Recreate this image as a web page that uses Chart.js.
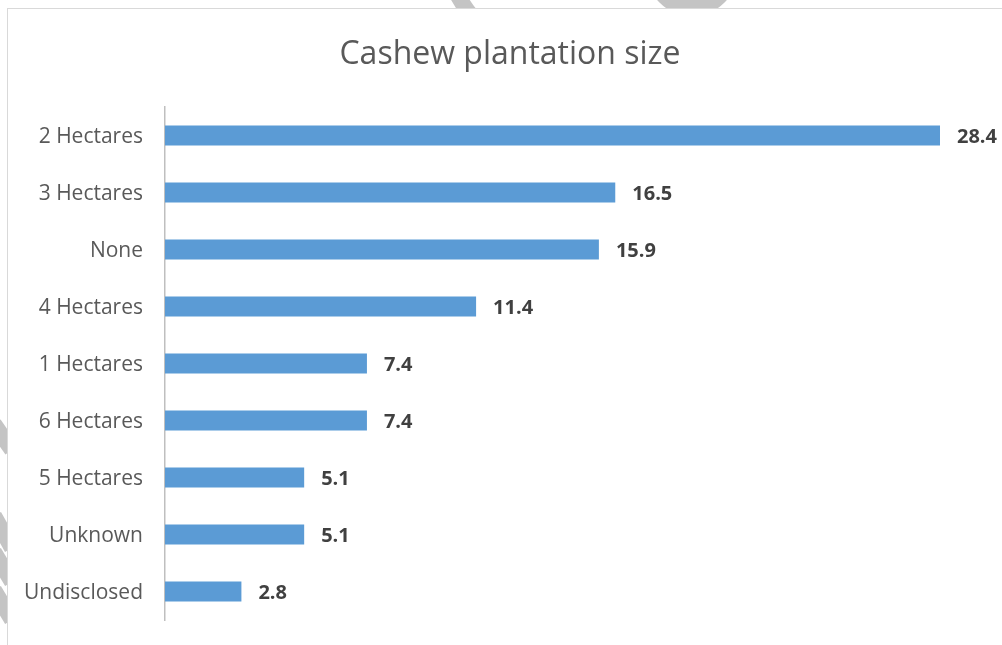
<!DOCTYPE html>
<html>
<head>
<meta charset="utf-8">
<script src="https://cdn.jsdelivr.net/npm/chart.js@4"></script>
<style>
html,body{margin:0;padding:0;background:#fff;overflow:hidden}
#wrap{position:relative;width:1002px;height:645px}
#mark{position:absolute;left:0;top:0}
#frame{position:absolute;left:7px;top:8px;width:1100px;height:700px;border:1.5px solid #d9d9d9;box-sizing:border-box;background:#fff}
canvas{position:absolute;left:0;top:0}
</style>
</head>
<body>
<div id="wrap">
<svg id="mark" width="1002" height="645">
  <g fill="none" stroke="#c4c4c4" stroke-width="16">
    <path d="M448,-30 Q454,-6 470,14"/>
    <circle cx="692" cy="-30" r="38"/>
    <path d="M-6,424 L12,450"/>
    <path d="M-6,516 L12,548"/>
    <path d="M-6,552 L12,582"/>
    <path d="M-6,590 L12,620"/>
  </g>
</svg>
<div id="frame"></div>
<canvas id="chart" width="1002" height="645"></canvas>
</div>
<script>
const chartTitle = "Cashew plantation size"
const categories = ["2 Hectares","3 Hectares","None","4 Hectares","1 Hectares","6 Hectares","5 Hectares","Unknown","Undisclosed"]
const values = [28.4,16.5,15.9,11.4,7.4,7.4,5.1,5.1,2.8]

// title centred over the whole frame, value labels right of each bar
const extras = {
id:"extras",
afterDraw(chart){
const ctx = chart.ctx
ctx.save()
ctx.font = "32px 'Open Sans'"
ctx.fillStyle = "#595959"
ctx.textAlign = "center"
ctx.textBaseline = "alphabetic"
ctx.fillText(chartTitle, 510, 64)

const meta = chart.getDatasetMeta(0)
ctx.font = "bold 20px 'Open Sans'"
ctx.fillStyle = "#404040"
ctx.textAlign = "left"
ctx.textBaseline = "middle"
meta.data.forEach((bar,i)=>{
ctx.fillText(values[i].toFixed(1), bar.x + 17, bar.y + 2)
})
ctx.restore()
}
}

new Chart(document.getElementById("chart"),{
type:"bar",
data:{
labels:categories,
datasets:[{
data:values,
backgroundColor:"#5B9BD5",
borderWidth:0,
categoryPercentage:1,
barPercentage:0.35
}]
},
options:{
indexAxis:"y",
responsive:false,
animation:false,
layout:{padding:{top:107,right:62,bottom:25,left:0}},
plugins:{
legend:{display:false},
tooltip:{enabled:false},
title:{display:false}
},
scales:{
x:{display:false,min:0,max:28.4},
y:{
afterFit(scale){
scale.width = 165
scale.paddingTop = 0
scale.paddingBottom = 0
},
grid:{display:false,drawTicks:false},
border:{display:true,color:"#bfbfbf",width:1.5},
ticks:{
color:"#595959",
padding:22,
labelOffset:2,
font:{family:"'Open Sans'",size:21}
}
}
}
},
plugins:[extras]
})
</script>
</body>
</html>
